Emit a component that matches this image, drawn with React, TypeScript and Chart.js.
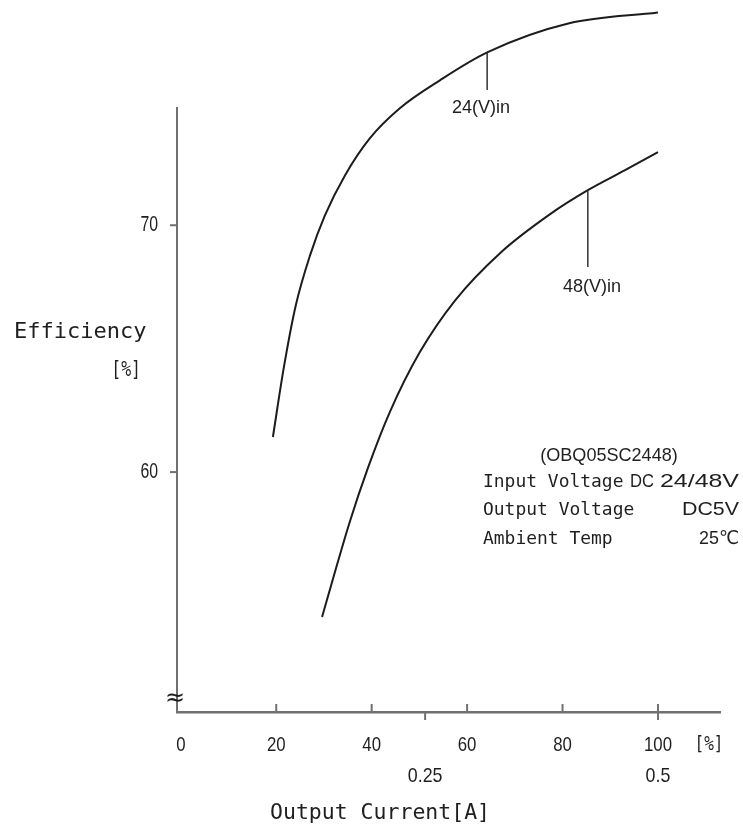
import React, { useEffect, useRef } from "react";
import { Chart, registerables } from "chart.js";

Chart.register(...registerables);

// ---- data ----
const load24 = [19.3, 21.6, 24.1, 27.1, 30.2, 34.4, 39.6, 45.9, 54.3, 64.2, 81.4, 100];
const eff24 = [61.42, 64.25, 66.76, 68.79, 70.4, 72.02, 73.52, 74.74, 75.87, 77.0, 78.18, 78.62];
const load48 = [29.6, 32.3, 35.4, 39.2, 43.8, 50.1, 57.5, 66.9, 77.4, 85.3, 93.1, 100];
const eff48 = [54.13, 55.95, 57.98, 60.16, 62.43, 64.86, 66.96, 68.87, 70.45, 71.42, 72.23, 72.96];
const seriesNames = ["24(V)in", "48(V)in"];
const calloutLoad = [64.2, 85.3];
const xTickValues = [0, 20, 40, 60, 80, 100];
const yTickValues = [60, 70];
const currentTickValues = [51.2, 100];
const currentTickLabels = ["0.25", "0.5"];
const yTitle = "Efficiency";
const yUnit = "[%]";
const xUnit = "[%]";
const xTitle = "Output Current[A]";
const modelName = "(OBQ05SC2448)";
const infoKeys = ["Input Voltage", "Output Voltage", "Ambient Temp"];
const infoValues = ["24/48V", "DC5V", "25℃"];
const infoPrefix = "DC";

const MONO = "'DejaVu Sans Mono', monospace";
const SANS = "'Liberation Sans', 'DejaVu Sans', sans-serif";
const TEXT = "#1f1f1f";
const AXIS = "#707070";

function drawText(
  ctx: CanvasRenderingContext2D,
  s: string,
  x: number,
  y: number,
  font: string,
  align: "left" | "center" | "right",
  sx: number = 1,
  fitWidth?: number
) {
  ctx.save();
  ctx.font = font;
  ctx.textBaseline = "middle";
  ctx.textAlign = "left";
  const raw = ctx.measureText(s).width;
  const k = fitWidth ? fitWidth / raw : sx;
  const w = raw * k;
  const x0 = align === "left" ? x : align === "center" ? x - w / 2 : x - w;
  ctx.translate(x0, y);
  ctx.scale(k, 1);
  ctx.fillStyle = TEXT;
  ctx.fillText(s, 0, 0);
  ctx.restore();
}

function interp(xs: number[], ys: number[], x: number) {
  for (let i = 0; i < xs.length - 1; i++) {
    if (x >= xs[i] && x <= xs[i + 1]) {
      const t = (x - xs[i]) / (xs[i + 1] - xs[i]);
      return ys[i] + t * (ys[i + 1] - ys[i]);
    }
  }
  return ys[ys.length - 1];
}

const decorPlugin = {
  id: "decor",
  afterDraw(chart: any) {
    const ctx: CanvasRenderingContext2D = chart.ctx;
    const xs = chart.scales.x;
    const ys = chart.scales.y;
    const area = chart.chartArea;
    ctx.save();
    ctx.strokeStyle = AXIS;
    ctx.lineWidth = 2;
    // y tick marks + labels
    yTickValues.forEach((v) => {
      const py = ys.getPixelForValue(v);
      ctx.beginPath();
      ctx.moveTo(area.left - 7, py);
      ctx.lineTo(area.left, py);
      ctx.stroke();
      drawText(ctx, String(v), area.left - 19, py, `22px ${SANS}`, "right", 0.72);
    });
    // x tick marks (upward) + labels
    xTickValues.forEach((v) => {
      const px = xs.getPixelForValue(v);
      if (v > 0) {
        ctx.beginPath();
        ctx.moveTo(px, area.bottom);
        ctx.lineTo(px, area.bottom - 8);
        ctx.stroke();
      }
      drawText(ctx, String(v), px, area.bottom + 33, `21px ${SANS}`, "center", 0.8);
    });
    drawText(ctx, xUnit, 709, area.bottom + 33, `20px ${MONO}`, "center", 0.8);
    // current ticks (downward) + labels
    currentTickValues.forEach((v, i) => {
      const px = xs.getPixelForValue(v);
      ctx.beginPath();
      ctx.moveTo(px, area.bottom);
      ctx.lineTo(px, area.bottom + 8);
      ctx.stroke();
      drawText(ctx, currentTickLabels[i], px, area.bottom + 64, `21px ${SANS}`, "center", 0.85);
    });
    // axis titles
    drawText(ctx, xTitle, 270, 813, `21.5px ${MONO}`, "left");
    drawText(ctx, yTitle, 14, 332, `22px ${MONO}`, "left");
    drawText(ctx, yUnit, 141, 370, `22px ${MONO}`, "right", 0.75);
    // axis break symbol
    drawText(ctx, "≈", area.left - 2, area.bottom - 13, `24px 'DejaVu Sans', sans-serif`, "center");
    // callouts
    ctx.strokeStyle = "#333";
    ctx.lineWidth = 1.5;
    const curves = [
      { xs: load24, ys: eff24, end: 90, labelY: 108, labelX: 481 },
      { xs: load48, ys: eff48, end: 267, labelY: 287, labelX: 592 },
    ];
    curves.forEach((c, i) => {
      const px = xs.getPixelForValue(calloutLoad[i]);
      const py = ys.getPixelForValue(interp(c.xs, c.ys, calloutLoad[i]));
      ctx.beginPath();
      ctx.moveTo(px, py);
      ctx.lineTo(px, c.end);
      ctx.stroke();
      drawText(ctx, seriesNames[i], c.labelX, c.labelY, `19px ${SANS}`, "center", 0.95);
    });
    // info block
    drawText(ctx, modelName, 609, 456, `19px ${SANS}`, "center", 0.95);
    const rowsY = [482, 510, 539];
    infoKeys.forEach((k, i) => {
      drawText(ctx, k, 483, rowsY[i], `18.5px ${MONO}`, "left", 0.97);
    });
    drawText(ctx, infoPrefix, 630, rowsY[0], `19px ${SANS}`, "left", 0, 24);
    drawText(ctx, infoValues[0], 739, rowsY[0], `19px ${SANS}`, "right", 0, 79);
    drawText(ctx, infoValues[1], 739, rowsY[1], `19px ${SANS}`, "right", 0, 57);
    drawText(ctx, infoValues[2], 739, rowsY[2], `19px ${SANS}`, "right", 0, 40);
    ctx.restore();
  },
};

export default function App() {
  const ref = useRef<HTMLCanvasElement | null>(null);
  useEffect(() => {
    if (!ref.current) return;
    const mk = (xs: number[], ys: number[]) => xs.map((x, i) => ({ x, y: ys[i] }));
    const chart = new Chart(ref.current, {
      type: "line",
      data: {
        datasets: [
          {
            label: seriesNames[0],
            data: mk(load24, eff24),
            borderColor: "#1c1c1c",
            borderWidth: 2,
            pointRadius: 0,
            cubicInterpolationMode: "monotone",
            clip: false as any,
          },
          {
            label: seriesNames[1],
            data: mk(load48, eff48),
            borderColor: "#1c1c1c",
            borderWidth: 2,
            pointRadius: 0,
            cubicInterpolationMode: "monotone",
            clip: false as any,
          },
        ],
      },
      options: {
        animation: false,
        responsive: false,
        devicePixelRatio: 1,
        events: [],
        layout: { padding: { left: 0, right: 23, top: 108, bottom: 0 } },
        plugins: { legend: { display: false }, tooltip: { enabled: false } },
        scales: {
          x: {
            type: "linear",
            min: -0.8,
            max: 113,
            grid: { display: false },
            ticks: { display: false },
            border: { display: true, color: AXIS, width: 2.5 },
            afterFit: (s: any) => {
              s.height = 118;
            },
          },
          y: {
            type: "linear",
            min: 50.28,
            max: 74.75,
            grid: { display: false },
            ticks: { display: false },
            border: { display: true, color: AXIS, width: 2 },
            afterFit: (s: any) => {
              s.width = 177;
            },
          },
        },
      },
      plugins: [decorPlugin],
    });
    return () => chart.destroy();
  }, []);
  return (
    <div style={{ position: "absolute", left: 0, top: 0, width: 743, height: 830, background: "#fff" }}>
      <canvas ref={ref} width={743} height={830} style={{ display: "block" }} />
    </div>
  );
}
